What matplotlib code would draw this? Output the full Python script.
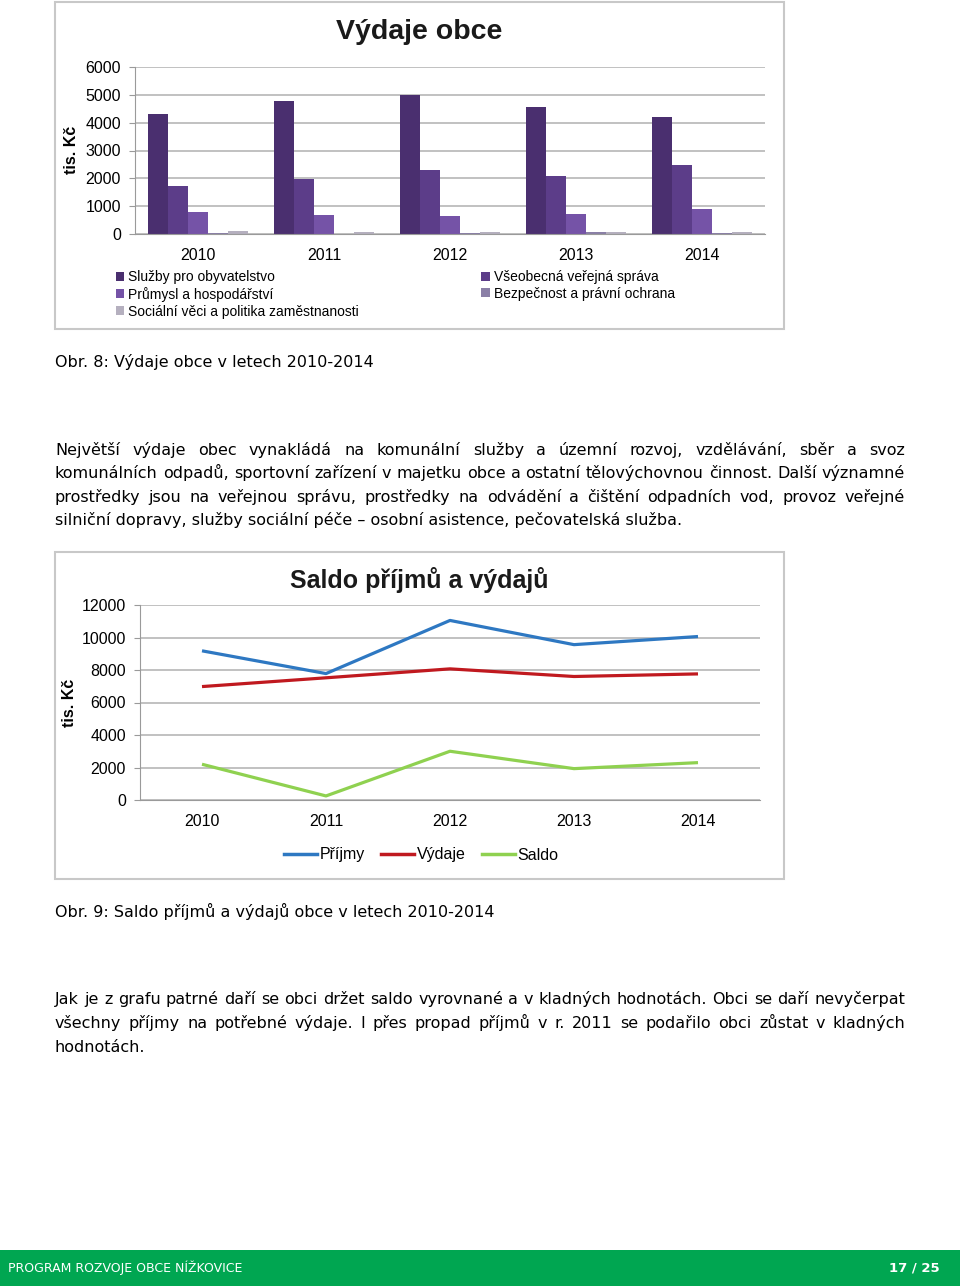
import matplotlib
matplotlib.use('Agg')
import matplotlib.pyplot as plt
from matplotlib.patches import Rectangle
from matplotlib.lines import Line2D
import numpy as np

W, H = 960, 1286

years = ['2010', '2011', '2012', '2013', '2014']

# Výdaje obce (tis. Kč)
exp_labels = ['Služby pro obyvatelstvo', 'Všeobecná veřejná správa', 'Průmysl a hospodářství',
              'Bezpečnost a právní ochrana', 'Sociální věci a politika zaměstnanosti']
sluzby = [4310, 4780, 4990, 4560, 4210]
sprava = [1720, 1980, 2310, 2090, 2480]
prumysl = [790, 690, 650, 720, 890]
bezpecnost = [20, 0, 20, 60, 20]
socialni = [100, 60, 60, 60, 60]
exp_colors = ['#4a2f6f', '#5c3d89', '#7553a7', '#8a7fa6', '#b5b0bf']

# Saldo příjmů a výdajů (tis. Kč)
prijmy = [9180, 7780, 11050, 9560, 10060]
vydaje = [6980, 7520, 8070, 7600, 7760]
saldo = [2200, 250, 3000, 1930, 2300]
line_labels = ['Příjmy', 'Výdaje', 'Saldo']
line_colors = ['#2e78c2', '#c0191f', '#8fd150']

para1 = [
    "Největší výdaje obec vynakládá na komunální služby a územní rozvoj, vzdělávání, sběr a svoz",
    "komunálních odpadů, sportovní zařízení v majetku obce a ostatní tělovýchovnou činnost. Další významné",
    "prostředky jsou na veřejnou správu, prostředky na odvádění a čištění odpadních vod, provoz veřejné",
    "silniční dopravy, služby sociální péče – osobní asistence, pečovatelská služba.",
]
para2 = [
    "Jak je z grafu patrné daří se obci držet saldo vyrovnané a v kladných hodnotách. Obci se daří nevyčerpat",
    "všechny příjmy na potřebné výdaje. I přes propad příjmů v r. 2011 se podařilo obci zůstat v kladných",
    "hodnotách.",
]

CHART_FONT = ['Liberation Sans', 'DejaVu Sans']
BODY_FONT = 'DejaVu Sans'
GRID = '#bcbcbc'


def fx(x):
    return x / W


def fy(y):
    return 1 - y / H


def rect(l, t, r, b):
    return [fx(l), fy(b), (r - l) / W, (b - t) / H]


fig = plt.figure(figsize=(W / 100, H / 100), dpi=100)
fig.patch.set_facecolor('white')


def frame(l, t, r, b):
    fig.patches.append(Rectangle((fx(l), fy(b)), (r - l) / W, (b - t) / H, transform=fig.transFigure,
                                 facecolor='none', edgecolor='#c8c8c8', lw=1.5))


def style_axes(ax):
    for s in ['top', 'right']:
        ax.spines[s].set_visible(False)
    ax.spines['left'].set_color('#9a9a9a')
    ax.spines['bottom'].set_color('#9a9a9a')
    ax.grid(axis='y', color=GRID, lw=1.3)
    ax.set_axisbelow(True)
    ax.tick_params(axis='y', length=4, color='#9a9a9a', pad=6, labelsize=11.5)
    ax.tick_params(axis='x', length=0, pad=10, labelsize=11.5)
    for lab in ax.get_xticklabels() + ax.get_yticklabels():
        lab.set_family(CHART_FONT)


# ---------- chart 1: bars ----------
frame(55, 2, 784, 329)
ax1 = fig.add_axes(rect(135, 67, 765, 234))
series = [sluzby, sprava, prumysl, bezpecnost, socialni]
x = np.arange(len(years))
bw = 0.158
handles = []
for i, (vals, col) in enumerate(zip(series, exp_colors)):
    b = ax1.bar(x + (i - 2) * bw, vals, width=bw, color=col, label=exp_labels[i])
    handles.append(b)
ax1.set_xlim(-0.5, 4.5)
ax1.set_ylim(0, 6000)
ax1.set_yticks(range(0, 6001, 1000))
ax1.set_xticks(x)
ax1.set_xticklabels(years)
style_axes(ax1)
fig.text(fx(419), fy(32), 'Výdaje obce', ha='center', va='center', fontsize=20.5,
         fontweight='bold', family=CHART_FONT, color='#1a1a1a')
fig.text(fx(72), fy(150), 'tis. Kč', rotation=90, ha='center', va='center', fontsize=11.5,
         fontweight='bold', family=CHART_FONT)
order = [0, 2, 4, 1, 3]
fig.legend([handles[i] for i in order], [exp_labels[i] for i in order], ncol=2,
           loc='upper left', bbox_to_anchor=(fx(116), fy(270)), frameon=False,
           borderpad=0, borderaxespad=0, handlelength=0.6, handleheight=0.6,
           handletextpad=0.3, labelspacing=0.2, columnspacing=8.8,
           prop={'family': CHART_FONT, 'size': 10})

# ---------- chart 2: lines ----------
frame(55, 552, 784, 879)
ax2 = fig.add_axes(rect(140, 605, 760, 800))
for vals, col, lab in zip([prijmy, vydaje, saldo], line_colors, line_labels):
    ax2.plot(x, vals, color=col, lw=2.3, label=lab, solid_capstyle='butt')
ax2.set_xlim(-0.5, 4.5)
ax2.set_ylim(0, 12000)
ax2.set_yticks(range(0, 12001, 2000))
ax2.set_xticks(x)
ax2.set_xticklabels(years)
style_axes(ax2)
fig.text(fx(419), fy(580), 'Saldo příjmů a výdajů', ha='center', va='center', fontsize=18,
         fontweight='bold', family=CHART_FONT, color='#1a1a1a')
fig.text(fx(70), fy(703), 'tis. Kč', rotation=90, ha='center', va='center', fontsize=11.5,
         fontweight='bold', family=CHART_FONT)
fig.legend(loc='center', bbox_to_anchor=(fx(421), fy(855)), ncol=3, frameon=False,
           handles=[Line2D([], [], color=c, lw=2.5) for c in line_colors], labels=line_labels,
           handlelength=2.1, handletextpad=0.15, columnspacing=1.0, borderpad=0,
           prop={'family': CHART_FONT, 'size': 11.5})

# ---------- page text ----------
renderer = fig.canvas.get_renderer()
BODY_SIZE = 11.5


def body(x0, y, s):
    # y is the visual centre of the line in px; draw on a common baseline
    fig.text(fx(x0), fy(y + 5), s, ha='left', va='baseline', fontsize=BODY_SIZE, family=BODY_FONT)


def justify(line, y, x0=55, x1=905, last=False):
    if last:
        body(x0, y, line)
        return
    words = line.split(' ')
    texts = [fig.text(0, 0, w, fontsize=BODY_SIZE, family=BODY_FONT) for w in words]
    widths = [t.get_window_extent(renderer).width for t in texts]
    for t in texts:
        t.remove()
    gap = (x1 - x0 - sum(widths)) / (len(words) - 1)
    cx = x0
    for w, wd in zip(words, widths):
        body(cx, y, w)
        cx += wd + gap


body(55, 362, 'Obr. 8: Výdaje obce v letech 2010-2014')
for i, (line, y) in enumerate(zip(para1, [450, 473, 497, 520])):
    justify(line, y, last=(i == len(para1) - 1))

body(55, 912, 'Obr. 9: Saldo příjmů a výdajů obce v letech 2010-2014')
for i, (line, y) in enumerate(zip(para2, [999, 1023, 1047])):
    justify(line, y, last=(i == len(para2) - 1))

# footer
fig.patches.append(Rectangle((0, 0), 1, 36 / H, transform=fig.transFigure, facecolor='#00a651',
                             edgecolor='none'))
fig.text(fx(8), fy(1268), 'PROGRAM ROZVOJE OBCE NÍŽKOVICE', ha='left', va='center', fontsize=9,
         color='white', family=BODY_FONT)
fig.text(fx(940), fy(1268), '17 / 25', ha='right', va='center', fontsize=9.5, fontweight='bold',
         color='white', family=BODY_FONT)

fig.savefig('out.png', dpi=100)
